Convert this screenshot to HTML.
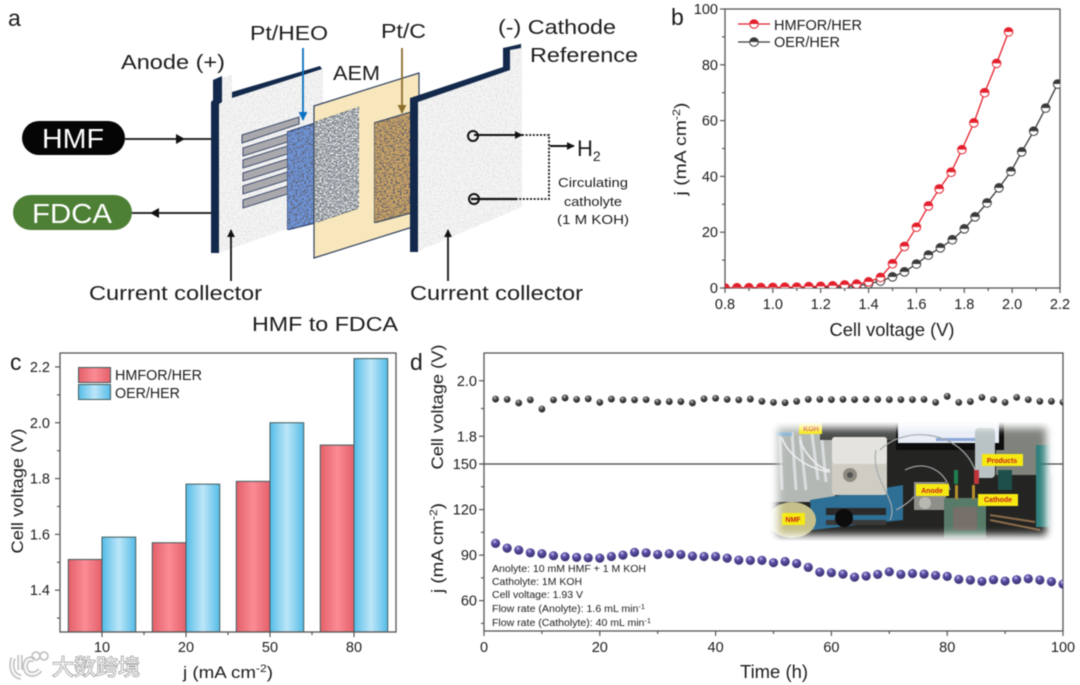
<!DOCTYPE html>
<html lang="en">
<head>
<meta charset="utf-8">
<title>HMF to FDCA electrolyser figure</title>
<style>
html,body{margin:0;padding:0;background:#fff;}
body{width:1080px;height:685px;overflow:hidden;}
svg{display:block;filter:blur(.5px);}
text{font-family:"Liberation Sans","Noto Sans CJK SC",sans-serif;fill:#1c1c1c;}
</style>
</head>
<body>
<svg id="figure" xmlns="http://www.w3.org/2000/svg" width="1080" height="685" viewBox="0 0 1080 685">
<defs>
<filter id="noise" x="0" y="0" width="100%" height="100%"><feTurbulence type="fractalNoise" baseFrequency=".55" numOctaves="2" seed="4" result="n"/><feColorMatrix in="n" type="matrix" values="0 0 0 0 .62 0 0 0 0 .62 0 0 0 0 .62 0 0 0 1.4 -.55" result="g"/><feComposite in="g" in2="SourceGraphic" operator="in" result="s"/><feMerge><feMergeNode in="SourceGraphic"/><feMergeNode in="s"/></feMerge></filter>
<filter id="weave-dark" x="0" y="0" width="100%" height="100%"><feTurbulence type="fractalNoise" baseFrequency=".45 .7" numOctaves="2" seed="9" result="n"/><feColorMatrix in="n" type="matrix" values="0 0 0 0 .12 0 0 0 0 .12 0 0 0 0 .15 0 0 0 4 -1.7" result="g"/><feComposite in="g" in2="SourceGraphic" operator="in" result="s"/><feMerge><feMergeNode in="SourceGraphic"/><feMergeNode in="s"/></feMerge></filter>
<filter id="weave-light" x="0" y="0" width="100%" height="100%"><feTurbulence type="fractalNoise" baseFrequency=".5 .75" numOctaves="2" seed="12" result="n"/><feColorMatrix in="n" type="matrix" values="0 0 0 0 .95 0 0 0 0 .95 0 0 0 0 .95 0 0 0 4 -1.8" result="g"/><feComposite in="g" in2="SourceGraphic" operator="in" result="s"/><feMerge><feMergeNode in="SourceGraphic"/><feMergeNode in="s"/></feMerge></filter>
<filter id="soft" x="-5%" y="-5%" width="110%" height="110%"><feGaussianBlur stdDeviation="4"/></filter>
<filter id="soft1" x="-5%" y="-5%" width="110%" height="110%"><feGaussianBlur stdDeviation=".7"/></filter>
<mask id="photo-fade" maskUnits="userSpaceOnUse" x="760" y="410" width="305" height="145"><rect x="778" y="428" width="268" height="107" fill="#fff" filter="url(#soft)"/></mask>
<linearGradient id="red-bar" x1="0" x2="1" y1="0" y2="0"><stop offset="0" stop-color="#e4606a"/><stop offset=".5" stop-color="#fb8b95"/><stop offset="1" stop-color="#e4606a"/></linearGradient>
<linearGradient id="blue-bar" x1="0" x2="1" y1="0" y2="0"><stop offset="0" stop-color="#55bce8"/><stop offset=".5" stop-color="#bde6f8"/><stop offset="1" stop-color="#55bce8"/></linearGradient>
<radialGradient id="ball-dark" cx=".4" cy=".3" r=".7"><stop offset="0" stop-color="#d8d8d8"/><stop offset=".35" stop-color="#555"/><stop offset="1" stop-color="#1f1f1f"/></radialGradient>
<radialGradient id="ball-purple" cx=".4" cy=".3" r=".7"><stop offset="0" stop-color="#c9c4ee"/><stop offset=".35" stop-color="#5b50a6"/><stop offset="1" stop-color="#37306f"/></radialGradient>
<clipPath id="clip-b"><rect x="725" y="9" width="335" height="279"/></clipPath>
<clipPath id="clip-d"><rect x="484" y="353" width="579" height="278"/></clipPath>
<marker id="ah" viewBox="0 0 10 10" refX="9" refY="5" markerWidth="8" markerHeight="8" orient="auto-start-reverse" markerUnits="userSpaceOnUse"><path d="M0 0L10 5L0 10Z" fill="#111"/></marker>
<marker id="ah-blue" viewBox="0 0 10 10" refX="9" refY="5" markerWidth="9" markerHeight="9" orient="auto" markerUnits="userSpaceOnUse"><path d="M0 0L10 5L0 10Z" fill="#0a72c2"/></marker>
<marker id="ah-brown" viewBox="0 0 10 10" refX="9" refY="5" markerWidth="9" markerHeight="9" orient="auto" markerUnits="userSpaceOnUse"><path d="M0 0L10 5L0 10Z" fill="#8c6d2e"/></marker>
</defs>

<!-- PANEL A -->
<g id="panel-a">
<text x="8" y="26" font-size="23">a</text>
<text x="250" y="40" font-size="20" textLength="78" lengthAdjust="spacingAndGlyphs">Pt/HEO</text>
<text x="381" y="38" font-size="20" textLength="45" lengthAdjust="spacingAndGlyphs">Pt/C</text>
<text x="498" y="34" font-size="20" textLength="118" lengthAdjust="spacingAndGlyphs">(-) Cathode</text>
<text x="530" y="62" font-size="20" textLength="108" lengthAdjust="spacingAndGlyphs">Reference</text>
<text x="121" y="69" font-size="20" textLength="104" lengthAdjust="spacingAndGlyphs">Anode (+)</text>
<text x="333" y="80" font-size="20" textLength="47" lengthAdjust="spacingAndGlyphs">AEM</text>

<g>
<polygon points="221,78 232,75 232,100 221,104" fill="#f6f6f6" filter="url(#noise)"/>
<polygon points="232,96 321,68 323,70 323,216 219,253 219,104" fill="#f6f6f6" filter="url(#noise)"/>
<polygon points="232,92 320,66 322,69 232,98" fill="#13294b"/>
<polygon points="213,80 222,76 222,102 219,104 219,253 211,253 211,102 213,100" fill="#13294b"/>
</g>
<g fill="#a9a9ad" stroke="#3d4a6b" stroke-width="1">
<polygon points="242,135 299,117 299,124 242,143"/>
<polygon points="243,148 300,130 300,138 243,156"/>
<polygon points="243,160 300,142 300,150 243,168"/>
<polygon points="243,173 300,155 300,163 243,181"/>
<polygon points="243,186 300,168 300,176 243,194"/>
<polygon points="243,200 300,182 300,190 243,208"/>
</g>
<polygon points="287,132 315,123 315,223 287,230" fill="#6f9ae2" stroke="#1f3f7c" stroke-width="1.2" filter="url(#weave-dark)"/>
<polygon points="314,106 419,73 419,225 314,258" fill="#f8e7bd" stroke="#30415f" stroke-width="1.2"/>
<polygon points="315,122 359,107 359,208 315,223" fill="#7f878e" stroke="#33404f" stroke-width=".6" filter="url(#weave-light)"/>
<polygon points="374,123 411,112 411,213 374,223" fill="#cfa765" stroke="#1f3f5c" stroke-width="1.2" filter="url(#weave-dark)"/>
<g>
<polygon points="510,46 522,43 522,68 510,72" fill="#f6f6f6" filter="url(#noise)"/>
<polygon points="418,100 510,68 522,66 522,207 418,251" fill="#f6f6f6" filter="url(#noise)"/>
<polygon points="503,48 521,44 521,48 510,50 510,70 418,102 418,252 410,252 410,98 503,67" fill="#13294b"/>
</g>

<rect x="22" y="121" width="103" height="34" rx="17" fill="#050505"/>
<text x="73" y="148" font-size="28" text-anchor="middle" style="fill:#fff" textLength="62" lengthAdjust="spacingAndGlyphs">HMF</text>
<rect x="13" y="195" width="119" height="35" rx="17.5" fill="#4d7f35"/>
<text x="72" y="223" font-size="28" text-anchor="middle" style="fill:#fff" textLength="80" lengthAdjust="spacingAndGlyphs">FDCA</text>
<g stroke="#111" fill="none" stroke-width="1.8">
<line x1="125" y1="139" x2="211" y2="139"/><polygon points="176,134 185,139 176,144" fill="#111" stroke="none"/>
<line x1="132" y1="213" x2="211" y2="213"/><polygon points="159,208 150,213 159,218" fill="#111" stroke="none"/>
<line x1="231" y1="281" x2="231" y2="230" marker-end="url(#ah)"/>
<line x1="448" y1="281" x2="448" y2="230" marker-end="url(#ah)"/>
<circle cx="473" cy="136" r="5" stroke-width="2"/>
<circle cx="474" cy="199" r="5" stroke-width="2"/>
<line x1="474" y1="135" x2="522" y2="135" stroke-width="2" marker-end="url(#ah)"/>
<line x1="471" y1="199" x2="517" y2="199" stroke-width="2.200"/>
<path d="M522 135H549V199H517" stroke-dasharray="2 1.600" stroke-width="1.800"/>
<line x1="550" y1="146" x2="574" y2="146" stroke-width="2" marker-end="url(#ah)"/>
</g>
<line x1="303" y1="48" x2="303" y2="120" stroke="#0a72c2" stroke-width="1.8" marker-end="url(#ah-blue)"/>
<line x1="402" y1="48" x2="402" y2="113" stroke="#8c6d2e" stroke-width="1.8" marker-end="url(#ah-brown)"/>
<text x="577" y="156" font-size="22">H<tspan font-size="14" dy="5">2</tspan></text>
<g font-size="13" text-anchor="middle">
<text x="593" y="187" textLength="70" lengthAdjust="spacingAndGlyphs">Circulating</text>
<text x="593" y="206" textLength="58" lengthAdjust="spacingAndGlyphs">catholyte</text>
<text x="593" y="224" textLength="72" lengthAdjust="spacingAndGlyphs">(1 M KOH)</text>
</g>
<text x="89" y="300" font-size="20" textLength="173" lengthAdjust="spacingAndGlyphs">Current collector</text>
<text x="410" y="300" font-size="20" textLength="173" lengthAdjust="spacingAndGlyphs">Current collector</text>
<text x="252" y="331" font-size="20" textLength="146" lengthAdjust="spacingAndGlyphs">HMF to FDCA</text>
</g>

<!-- PANEL B -->
<g id="panel-b">
<text x="671" y="25" font-size="23">b</text>
<rect x="725" y="9" width="335" height="279" fill="none" stroke="#555" stroke-width="1.3"/>
<g id="b-axes"></g>
<g id="b-series" clip-path="url(#clip-b)"></g>
<text transform="translate(686,149) rotate(-90)" font-size="17" text-anchor="middle" textLength="93" lengthAdjust="spacingAndGlyphs">j (mA cm<tspan font-size="11" dy="-6">-2</tspan><tspan dy="6">)</tspan></text>
<text x="892" y="336" font-size="18" text-anchor="middle" textLength="125" lengthAdjust="spacingAndGlyphs">Cell voltage (V)</text>
<g>
<line x1="738" y1="24" x2="770" y2="24" stroke="#e3202c" stroke-width="1.2"/>
<circle cx="754" cy="24" r="4.300" fill="#fff" stroke="#e3202c"/><path d="M749.700 24A4.300 4.300 0 0 1 758.300 24Z" fill="#e3202c"/>
<text x="774" y="30" font-size="14.5" textLength="88" lengthAdjust="spacingAndGlyphs">HMFOR/HER</text>
<line x1="738" y1="42" x2="770" y2="42" stroke="#3a3a3a" stroke-width="1.2"/>
<circle cx="754" cy="42" r="4.300" fill="#fff" stroke="#3a3a3a"/><path d="M749.700 42A4.300 4.300 0 0 1 758.300 42Z" fill="#3a3a3a"/>
<text x="774" y="47" font-size="14.5" textLength="66" lengthAdjust="spacingAndGlyphs">OER/HER</text>
</g>
</g>

<!-- PANEL C -->
<g id="panel-c">
<text x="10" y="370" font-size="23">c</text>
<g id="c-bars"></g>
<rect x="60" y="353" width="336" height="279" fill="none" stroke="#555" stroke-width="1.3"/>
<g id="c-axes"></g>
<text transform="translate(23,491) rotate(-90)" font-size="17" text-anchor="middle" textLength="125" lengthAdjust="spacingAndGlyphs">Cell voltage (V)</text>
<text x="228" y="678" font-size="17" text-anchor="middle" textLength="90" lengthAdjust="spacingAndGlyphs">j (mA cm<tspan font-size="11" dy="-6">-2</tspan><tspan dy="6">)</tspan></text>
<g>
<rect x="78.500" y="367.500" width="32" height="15" fill="url(#red-bar)" stroke="#3f5a5e"/>
<rect x="78.500" y="384.500" width="32" height="15" fill="url(#blue-bar)" stroke="#3f5a5e"/>
<text x="115" y="380" font-size="14.500" textLength="87" lengthAdjust="spacingAndGlyphs">HMFOR/HER</text>
<text x="115" y="398" font-size="14.500" textLength="65" lengthAdjust="spacingAndGlyphs">OER/HER</text>
</g>
</g>

<!-- PANEL D -->
<g id="panel-d">
<text x="410" y="370" font-size="23">d</text>
<rect x="484" y="353" width="579" height="278" fill="none" stroke="#555" stroke-width="1.3"/>
<line x1="484" y1="464" x2="1063" y2="464" stroke="#444" stroke-width="1.2"/>
<g id="d-axes"></g>
<g id="d-series" clip-path="url(#clip-d)"></g>
<text transform="translate(443,407) rotate(-90)" font-size="17" text-anchor="middle" textLength="125" lengthAdjust="spacingAndGlyphs">Cell voltage (V)</text>
<text transform="translate(443,548) rotate(-90)" font-size="17" text-anchor="middle" textLength="90" lengthAdjust="spacingAndGlyphs">j (mA cm<tspan font-size="11" dy="-6">-2</tspan><tspan dy="6">)</tspan></text>
<text x="774" y="678" font-size="18" text-anchor="middle" textLength="68" lengthAdjust="spacingAndGlyphs">Time (h)</text>
<g font-size="10" style="fill:#333">
<text x="492" y="572" textLength="154" lengthAdjust="spacingAndGlyphs">Anolyte: 10 mM HMF + 1 M KOH</text>
<text x="492" y="585" textLength="90" lengthAdjust="spacingAndGlyphs">Catholyte: 1M KOH</text>
<text x="492" y="598" textLength="91" lengthAdjust="spacingAndGlyphs">Cell voltage: 1.93 V</text>
<text x="492" y="612" textLength="153" lengthAdjust="spacingAndGlyphs">Flow rate (Anolyte): 1.6 mL min<tspan font-size="7" dy="-3">-1</tspan></text>
<text x="492" y="626" textLength="159" lengthAdjust="spacingAndGlyphs">Flow rate (Catholyte): 40 mL min<tspan font-size="7" dy="-3">-1</tspan></text>
</g>

<g mask="url(#photo-fade)">
<rect x="770" y="420" width="285" height="122" fill="#242422"/>
<rect x="770" y="420" width="65" height="82" fill="#b4b8b4"/>
<rect x="820" y="420" width="80" height="20" fill="#4a4c4a"/>
<rect x="996" y="420" width="58" height="55" fill="#7f837c"/>
<rect x="896" y="420" width="108" height="30" fill="#0e0e0e"/>
<rect x="898" y="420" width="101" height="23" fill="#e8edf6"/>
<rect x="936" y="438" width="40" height="3" fill="#8aa7d8"/>
<rect x="1036" y="445" width="14" height="82" fill="#2f7f7c"/>
<polygon points="810,500 903,485 903,520 812,530" fill="#2d6f95"/>
<path d="M780 436L782 490M792 432L796 490M800 436L806 490M812 434L818 480M822 440L826 482" stroke="#e6eaec" stroke-width="3" fill="none" opacity=".75"/>
<rect x="776" y="432" width="16" height="4" fill="#7fb1d8" opacity=".8"/>
<path d="M782 438C790 460 815 470 830 472M800 440C805 455 820 470 830 470" stroke="#eef1f2" stroke-width="1.5" fill="none"/>
<rect x="832" y="437" width="55" height="58" rx="3" fill="#cfcdc3"/>
<rect x="832" y="437" width="55" height="27" rx="3" fill="#e4e3dd"/>
<circle cx="850" cy="475" r="7" fill="#8d8b80"/><circle cx="850" cy="475" r="3" fill="#555"/>
<rect x="826" y="508" width="60" height="7" fill="#2a2a2a"/>
<rect x="826" y="520" width="60" height="5" fill="#3a3a3a"/>
<circle cx="844" cy="518" r="9" fill="#0c0c0c"/>
<ellipse cx="792" cy="520" rx="24" ry="18" fill="#c5c08a"/>
<rect x="975" y="428" width="20" height="50" rx="4" fill="#b9c2c5"/>
<path d="M880 450C905 425 960 430 975 470M905 470C925 460 945 470 950 490M876 450C870 480 900 500 890 520M896 510C915 500 920 490 920 482" fill="none" stroke="#a6aaac" stroke-width="1.2"/>
<rect x="914" y="482" width="32" height="28" fill="#8f8f8a"/>
<circle cx="925" cy="503" r="6" fill="#b8b8b2"/>
<rect x="944" y="498" width="42" height="40" fill="#587a68"/>
<rect x="953" y="507" width="24" height="23" fill="#77706a"/>
<rect x="955" y="485" width="3" height="14" fill="#b6902e"/><rect x="972" y="485" width="3" height="14" fill="#b6902e"/>
<rect x="974" y="470" width="5" height="14" fill="#c0343a"/>
<rect x="954" y="470" width="4" height="14" fill="#1f7f4f"/>
<rect x="998" y="470" width="14" height="20" fill="#1f4f4a"/>
<path d="M990 520L1040 530M990 515L1035 522" stroke="#8a6b4a" stroke-width="2"/>
<g font-size="7" font-weight="bold" text-anchor="middle">
<rect x="799" y="423" width="23" height="11" fill="#f5e914"/>
<text x="811" y="431" style="fill:#c8201c">KOH</text>
<rect x="982" y="454" width="41" height="12" fill="#f5e914"/>
<text x="1002" y="463" style="fill:#c8201c">Products</text>
<rect x="916" y="484" width="33" height="12" fill="#f5e914"/>
<text x="932" y="493" style="fill:#c8201c">Anode</text>
<rect x="978" y="494" width="40" height="12" fill="#f5e914"/>
<text x="998" y="502" style="fill:#c8201c">Cathode</text>
<rect x="782" y="513" width="23" height="12" fill="#f5e914"/>
<text x="793" y="522" style="fill:#c8201c">NMF</text>
</g>
</g>
</g>

<!-- WATERMARK -->
<g>
<path d="M13 658C10 668 13 676 21 677M20 655V670M34 660C26 656 23 666 27 672C31 676 37 674 40 670" fill="none" stroke="#aaa" stroke-width="5"/>
<path d="M13 658C10 668 13 676 21 677M20 655V670M34 660C26 656 23 666 27 672C31 676 37 674 40 670" fill="none" stroke="#f4f4f4" stroke-width="3"/>
<circle cx="36" cy="656" r="4" fill="none" stroke="#bbb" stroke-width="1.5"/>
<circle cx="44" cy="656" r="4" fill="none" stroke="#bbb" stroke-width="1.5"/>
<text x="52" y="675" font-size="22" style="fill:#f0f0f0;stroke:#8f8f8f;stroke-width:1.2;paint-order:stroke">大数跨境</text>
</g>
</svg>

<script>
/* ---- Panel b data ---- */
const bVoltageHmfor = [0.8,0.85,0.9,0.95,1.0,1.05,1.1,1.15,1.2,1.25,1.3,1.35,1.4,1.45,1.5,1.55,1.6,1.65,1.695,1.745,1.79,1.84,1.885,1.935,1.985];
const bCurrentHmfor = [0,0.1,0.1,0.15,0.2,0.3,0.3,0.5,0.6,0.8,1.1,1.4,2.2,3.8,8.7,14.9,21.8,29.4,35.5,41.5,49.6,59.2,70,80.5,91.8];
const bVoltageOer = [0.8,0.85,0.9,0.95,1.0,1.05,1.1,1.15,1.2,1.25,1.3,1.35,1.4,1.45,1.5,1.55,1.6,1.65,1.7,1.75,1.8,1.845,1.895,1.945,1.995,2.04,2.09,2.14,2.19];
const bCurrentOer = [0,0,0,0.1,0.1,0.1,0.2,0.2,0.3,0.4,0.5,0.8,1.5,2.5,4,5.8,8.6,11.8,14.4,17.3,21.2,25.5,30.5,35.9,41.8,48.8,56.2,64.5,73.1];
const bXTickLabels = ['0.8','1.0','1.2','1.4','1.6','1.8','2.0','2.2'];
const bYTickLabels = ['0','20','40','60','80','100'];

/* ---- Panel c data ---- */
const cCategories = ['10','20','50','80'];
const cHmfor = [1.51,1.57,1.79,1.92];
const cOer = [1.59,1.78,2.00,2.23];
const cYTickLabels = ['1.4','1.6','1.8','2.0','2.2'];

/* ---- Panel d data ---- */
const dHours = [2,4,6,8,10,12,14,16,18,20,22,24,26,28,30,32,34,36,38,40,42,44,46,48,50,52,54,56,58,60,62,64,66,68,70,72,74,76,78,80,82,84,86,88,90,92,94,96,98,100];
const dVoltage = [1.934,1.933,1.920,1.931,1.898,1.931,1.938,1.933,1.935,1.922,1.934,1.931,1.931,1.932,1.923,1.925,1.925,1.920,1.935,1.937,1.933,1.931,1.934,1.926,1.922,1.921,1.926,1.933,1.933,1.932,1.933,1.932,1.933,1.933,1.932,1.932,1.932,1.933,1.922,1.944,1.922,1.925,1.940,1.932,1.922,1.940,1.932,1.926,1.926,1.923];
const dCurrent = [97.7,94.6,93.3,91.5,90.9,89.6,88.9,88.5,88.2,88.0,89.1,90,91.8,91.5,90.4,90.9,90.4,89.3,89.1,89.1,88,86.7,86.5,86.5,85,85.8,84.5,81.9,78.8,78.4,77.5,75.5,76.2,77.3,79,77.3,77.9,77.5,76.6,76,74,73.6,72.7,73.8,72.9,73.8,74.4,73.6,72.5,70.9];
const dXTickLabels = ['0','20','40','60','80','100'];
const dVoltageTickLabels = ['1.8','2.0'];
const dCurrentTickLabels = ['60','90','120','150'];

/* ---- axis functions ---- */
const xB = v => 725 + (v - 0.8) / 1.4 * 335;
const yB = j => 288 - j / 100 * 279;
const yC = v => 632 - (v - 1.25) / 1.0 * 279;
const bandC = i => 60 + (i + 0.5) * 84;
const xD = t => 484 + t / 100 * 579;
const yDV = v => 464 - (v - 1.7) / 0.4 * 111;
const yDJ = j => 631 - (j - 40) / 110 * 167;

const NS = 'http://www.w3.org/2000/svg';
function mk(parent, tag, props, txt) {
  const el = document.createElementNS(NS, tag);
  for (const k in props) el.setAttribute(k, props[k]);
  if (txt !== undefined) el.textContent = txt;
  parent.appendChild(el);
  return el;
}
function tickLine(parent, x1, y1, x2, y2) {
  const el = mk(parent, 'line', {x1, y1, x2, y2, stroke: '#555', 'stroke-width': 1.2});
  
  
}
function tickText(parent, x, y, anchor, label) {
  const el = mk(parent, 'text', {x, y, 'font-size': 14.5, 'text-anchor': anchor}, label);
  
  
}
function halfMarker(parent, cx, cy, color, name) {
  const r = 4.3;
  const base = mk(parent, 'circle', {cx, cy, r, fill: '#fff', stroke: color, 'stroke-width': 1});
  
  
  const top = mk(parent, 'path', {d: `M${cx - r} ${cy}A${r} ${r} 0 0 1 ${cx + r} ${cy}Z`, fill: color});
  
  
}

/* ---- draw panel b ---- */
const bAxes = document.getElementById('b-axes');
const bSeries = document.getElementById('b-series');
bXTickLabels.forEach(l => {
  const v = parseFloat(l);
  tickLine(bAxes, xB(v), 288, xB(v), 293);
  if (v < 2.2) tickLine(bAxes, xB(v + 0.1), 288, xB(v + 0.1), 291);
  tickText(bAxes, xB(v), 309, 'middle', l);
});
bYTickLabels.forEach(l => {
  const j = parseFloat(l);
  tickLine(bAxes, 720, yB(j), 725, yB(j));
  if (j < 100) tickLine(bAxes, 722, yB(j + 10), 725, yB(j + 10));
  tickText(bAxes, 718, yB(j) + 5, 'end', l);
});
const oerLine = mk(bSeries, 'polyline', {points: bVoltageOer.map((v, i) => xB(v) + ',' + yB(bCurrentOer[i])).join(' '), fill: 'none', stroke: '#3a3a3a', 'stroke-width': 1.3});


bVoltageOer.forEach((v, i) => halfMarker(bSeries, xB(v), yB(bCurrentOer[i]), '#3a3a3a', 'point-oer-her'));
const hmforLine = mk(bSeries, 'polyline', {points: bVoltageHmfor.map((v, i) => xB(v) + ',' + yB(bCurrentHmfor[i])).join(' '), fill: 'none', stroke: '#e3202c', 'stroke-width': 1.3});


bVoltageHmfor.forEach((v, i) => halfMarker(bSeries, xB(v), yB(bCurrentHmfor[i]), '#e3202c', 'point-hmfor-her'));

/* ---- draw panel c ---- */
const cBars = document.getElementById('c-bars');
const cAxes = document.getElementById('c-axes');
const barW = 33.7;
cCategories.forEach((c, i) => {
  const cx = bandC(i);
  const redBar = mk(cBars, 'rect', {x: cx - barW, y: yC(cHmfor[i]), width: barW, height: 632 - yC(cHmfor[i]), fill: 'url(#red-bar)', stroke: '#3f5a5e', 'stroke-width': 1});
  
  
  const blueBar = mk(cBars, 'rect', {x: cx, y: yC(cOer[i]), width: barW, height: 632 - yC(cOer[i]), fill: 'url(#blue-bar)', stroke: '#3f5a5e', 'stroke-width': 1});
  
  
  tickLine(cAxes, cx, 632, cx, 637);
  tickText(cAxes, cx, 652, 'middle', c);
  if (i < cCategories.length - 1) tickLine(cAxes, cx + 42, 632, cx + 42, 635);
});
cYTickLabels.forEach(l => {
  const v = parseFloat(l);
  tickLine(cAxes, 55, yC(v), 60, yC(v));
  tickLine(cAxes, 57, yC(v - 0.1), 60, yC(v - 0.1));
  tickText(cAxes, 50, yC(v) + 5, 'end', l);
});

/* ---- draw panel d ---- */
const dAxes = document.getElementById('d-axes');
const dSeries = document.getElementById('d-series');
dXTickLabels.forEach(l => {
  const t = parseFloat(l);
  tickLine(dAxes, xD(t), 631, xD(t), 636);
  if (t < 100) tickLine(dAxes, xD(t + 10), 631, xD(t + 10), 634);
  tickText(dAxes, xD(t), 652, 'middle', l);
});
dVoltageTickLabels.forEach(l => {
  const v = parseFloat(l);
  tickLine(dAxes, 479, yDV(v), 484, yDV(v));
  tickLine(dAxes, 481, yDV(v - 0.1), 484, yDV(v - 0.1));
  tickText(dAxes, 477, yDV(v) + 5, 'end', l);
});
dCurrentTickLabels.forEach(l => {
  const j = parseFloat(l);
  tickLine(dAxes, 479, yDJ(j), 484, yDJ(j));
  tickLine(dAxes, 481, yDJ(j - 15), 484, yDJ(j - 15));
  tickText(dAxes, 477, yDJ(j) + 5, 'end', l);
});
dHours.forEach((t, i) => {
  const vBall = mk(dSeries, 'circle', {cx: xD(t), cy: yDV(dVoltage[i]), r: 3.4, fill: 'url(#ball-dark)'});
  
  
  const jBall = mk(dSeries, 'circle', {cx: xD(t), cy: yDJ(dCurrent[i]), r: 4.6, fill: 'url(#ball-purple)'});
  
  
});
</script>
</body>
</html>
